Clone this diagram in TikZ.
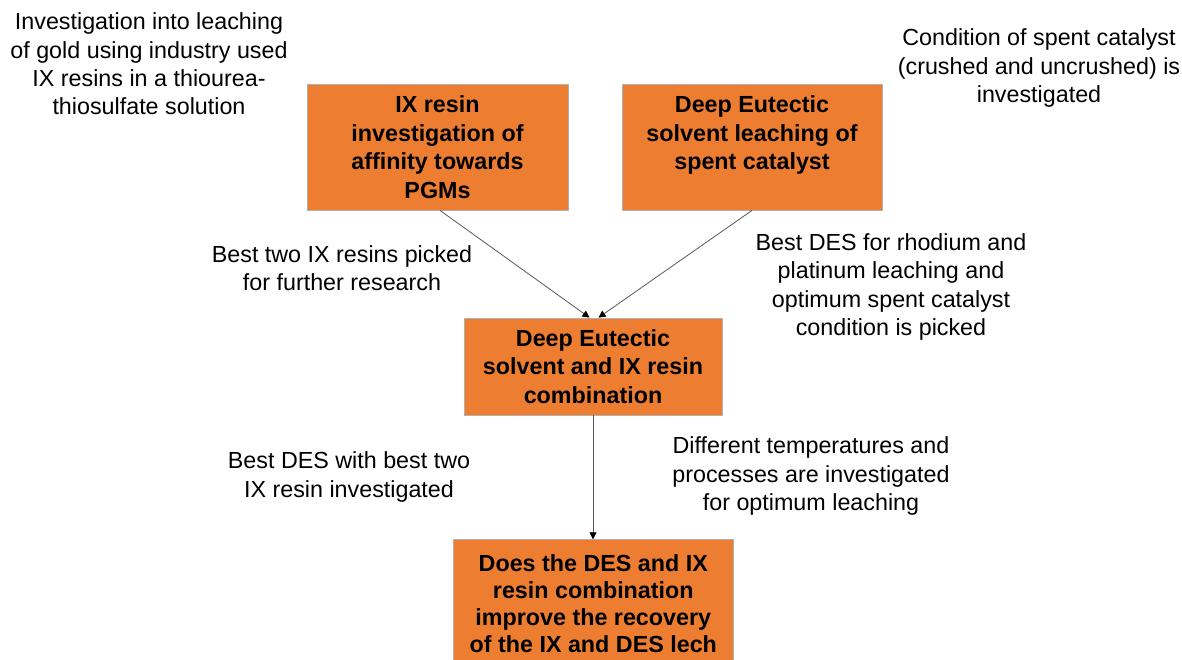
\documentclass[tikz,border=0pt]{standalone}
\usepackage{fontspec}
\setmainfont{Liberation Sans}
\usetikzlibrary{arrows.meta,calc}
\definecolor{boxorange}{HTML}{ED7D31}
\definecolor{boxedge}{HTML}{B0B0B0}
\definecolor{linegray}{HTML}{595959}
\begin{document}
\begin{tikzpicture}[x=1pt,y=-1pt,
  every node/.style={font=\fontsize{23.3}{28.4}\selectfont},
  stagebox/.style={draw=boxedge,line width=0.8pt,fill=boxorange,inner sep=0pt,
    align=center,font=\fontsize{23.3}{28.6}\selectfont\bfseries},
  note/.style={align=center,inner sep=0pt},
  flow/.style={draw=linegray,line width=0.8pt,-{Triangle[length=7pt,width=7pt,fill=black,color=black]}}]
\useasboundingbox (0,0) rectangle (1182,659);
\clip (0,0) rectangle (1182,659);
\fill[white] (0,0) rectangle (1182,659);

\node[stagebox,minimum width=261pt,minimum height=126pt] (b1) at (437.5,147)
  {IX resin\\investigation of\\affinity towards\\PGMs};
\node[stagebox,minimum width=260pt,minimum height=126pt] (b2) at (752,147)
  {Deep Eutectic\\solvent leaching of\\spent catalyst\\\mbox{}};
\node[stagebox,minimum width=258pt,minimum height=97pt] (b3) at (593,366.5)
  {Deep Eutectic\\solvent and IX resin\\combination};
\node[stagebox,font=\fontsize{23.3}{27.2}\selectfont\bfseries,minimum width=280pt,minimum height=128pt,anchor=north] (b4) at (593.3,539.3)
  {Does the DES and IX\\resin combination\\improve the recovery\\of the IX and DES lech};

\node[note] (t1) at (149,64) {Investigation into leaching\\of gold using industry used\\IX resins in a thiourea-\\thiosulfate solution};
\node[note] (t2) at (1039,68) {Condition of spent catalyst\\(crushed and uncrushed) is\\investigated};
\node[note] (t3) at (342,268) {Best two IX resins picked\\for further research};
\node[note] (t4) at (891,287) {Best DES for rhodium and\\platinum leaching and\\optimum spent catalyst\\condition is picked};
\node[note] (t5) at (349,477) {Best DES with best two\\IX resin investigated};
\node[note] (t6) at (811,476) {Different temperatures and\\processes are investigated\\for optimum leaching};

\draw[flow] ($(b1.south)+(2.5,0)$) -- ($(b3.north)+(-3.5,0)$);
\draw[flow] (b2.south) -- ($(b3.north)+(5.5,0)$);
\draw[flow] (b3.south) -- (b3.south |- b4.north);
\end{tikzpicture}
\end{document}
